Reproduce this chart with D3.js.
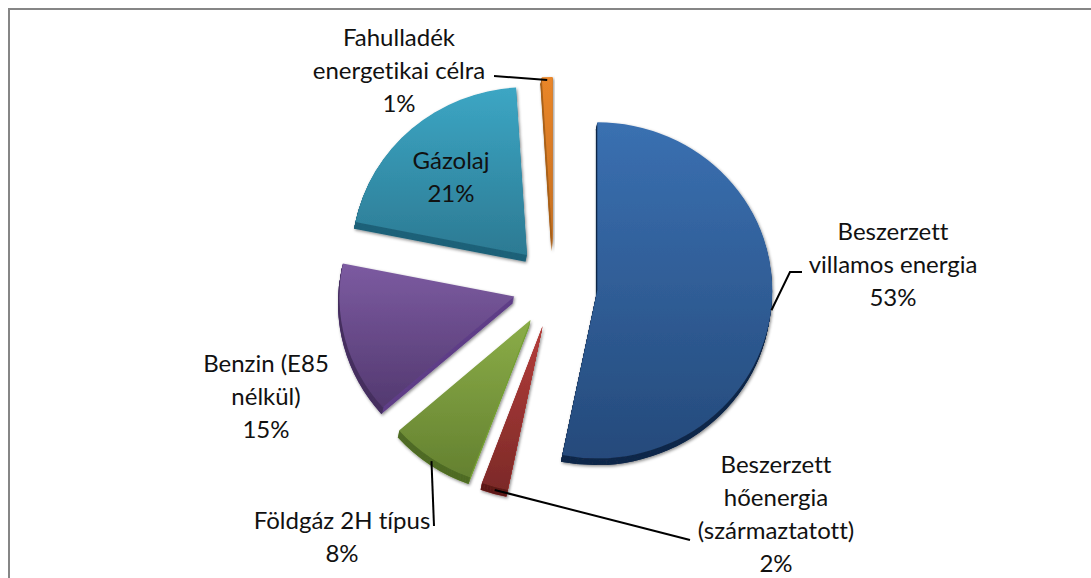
<!DOCTYPE html>
<html>
<head>
<meta charset="utf-8">
<script src="https://cdn.jsdelivr.net/npm/d3@7"></script>
<style>
  html, body { margin: 0; padding: 0; background: #fff; overflow: hidden; }
  text { font-family: Lato, "Open Sans", sans-serif; font-size: 24px; fill: #111; font-variant-ligatures: none; }
</style>
</head>
<body>
<div id="chart"></div>
<script>
// chart data
var categories = ["Beszerzett villamos energia", "Beszerzett hőenergia (származtatott)", "Földgáz 2H típus", "Benzin (E85 nélkül)", "Gázolaj", "Fahulladék energetikai célra"];
var values = [53.2, 2.45, 7.9, 14.6, 20.85, 1];
var labelLines = [
  ["Beszerzett", "villamos energia"],
  ["Beszerzett", "hőenergia", "(származtatott)"],
  ["Földgáz 2H típus"],
  ["Benzin (E85", "nélkül)"],
  ["Gázolaj"],
  ["Fahulladék", "energetikai célra"]
];

// styling per slice
var topColors = ["#3a70b1", "#b43d3a", "#8bad48", "#7c5ba1", "#3ca6c4", "#ea8629"];
var bottomColors = ["#254a7b", "#7c2a28", "#648130", "#533970", "#2c7a93", "#c46e20"];
var edgeColors = ["#12294a", "#ab3835", "#76a034", "#5f3f88", "#1f6279", "#a9611b"];
var rimColors = ["#12294a", "#5c1a18", "#4f6b25", "#46305f", "#1f6279", "#a9611b"];

// label layout: centre x, y of the first line
var labelPos = [[893, 230], [776, 463], [342, 519], [266, 362], [451, 159], [399, 36]];
// leader lines continue from the slice edge through these points
var leaderPoints = [[[790, 272], [802, 272]], [[690, 540]], [[434, 526]], [], [], [[494, 76]]];
var explodes = [43.5, 41, 41, 41, 41, 41];

var svgWidth = 1091;
var svgHeight = 578;
var center = { x: 554, y: 286 };
var radius = 175;
var squash = 0.96;
var depth = 7;
var lineGap = 33.2;

var svg = d3.select("#chart")
  .append("svg")
  .attr("width", svgWidth)
  .attr("height", svgHeight)
  .style("display", "block");

var defs = svg.append("defs");

// one vertical gradient per slice
categories.forEach(function(c, i) {
  var g = defs.append("linearGradient")
    .attr("id", "grad" + i)
    .attr("x1", 0).attr("y1", 0).attr("x2", 0).attr("y2", 1);
  g.append("stop").attr("offset", "0%").attr("stop-color", topColors[i]);
  g.append("stop").attr("offset", "100%").attr("stop-color", bottomColors[i]);
});

var shadow = defs.append("filter")
  .attr("id", "shadow")
  .attr("x", "-10%").attr("y", "-10%").attr("width", "125%").attr("height", "125%");
shadow.append("feDropShadow")
  .attr("dx", 1)
  .attr("dy", 1.5)
  .attr("stdDeviation", 1.5)
  .attr("flood-color", "#000")
  .attr("flood-opacity", 0.45);

// frame, only top and left edges show
svg.append("path")
  .attr("d", d3.line()([[9, svgHeight], [9, 9], [svgWidth, 9]]))
  .attr("fill", "none")
  .attr("stroke", "#868686")
  .attr("stroke-width", 2);

var pie = d3.pie().sort(null).value(function(d) { return d; });
var arcs = pie(values);
var arc = d3.arc().innerRadius(0).outerRadius(radius);
var rim = d3.arc().innerRadius(radius - 1.5).outerRadius(radius);

// apex of a slice after it is pulled out of the pie
function apex(d, i) {
  var mid = (d.startAngle + d.endAngle) / 2;
  return [center.x + explodes[i] * Math.sin(mid), center.y - explodes[i] * Math.cos(mid)];
}

var slices = svg.selectAll("g.slice")
  .data(arcs)
  .enter()
  .append("g")
  .attr("class", "slice")
  .attr("filter", "url(#shadow)")
  .attr("transform", function(d, i) {
    var p = apex(d, i);
    return "translate(" + p[0] + "," + p[1] + ") scale(1," + squash + ")";
  });

// extruded side: stacked copies for the straight edges, then the rim of the arc
slices.each(function(d, i) {
  var g = d3.select(this);
  d3.range(depth, 0, -1).forEach(function(t) {
    g.append("path")
      .attr("d", arc(d))
      .attr("transform", "translate(" + (-t * 0.2) + "," + t + ")")
      .attr("fill", edgeColors[i]);
  });
  d3.range(depth, 0, -1).forEach(function(t) {
    g.append("path")
      .attr("d", rim(d))
      .attr("transform", "translate(" + (-t * 0.2) + "," + t + ")")
      .attr("fill", rimColors[i]);
  });
  g.append("path")
    .attr("d", arc(d))
    .attr("fill", "url(#grad" + i + ")");
});

// leader lines
arcs.forEach(function(d, i) {
  if (!leaderPoints[i].length) return;
  var p = apex(d, i);
  var mid = (d.startAngle + d.endAngle) / 2;
  var start = [p[0] + radius * Math.sin(mid), p[1] - radius * squash * Math.cos(mid) + 3];
  svg.append("path")
    .attr("d", d3.line()([start].concat(leaderPoints[i])))
    .attr("fill", "none")
    .attr("stroke", "#000")
    .attr("stroke-width", 2);
});

// labels, category lines then the rounded percentage
categories.forEach(function(c, i) {
  var lines = labelLines[i].concat([Math.round(values[i]) + "%"]);
  svg.selectAll("text.l" + i)
    .data(lines)
    .enter()
    .append("text")
    .attr("class", "l" + i)
    .attr("text-anchor", "middle")
    .attr("dominant-baseline", "central")
    .attr("x", labelPos[i][0])
    .attr("y", function(d, j) { return labelPos[i][1] + j * lineGap; })
    .text(function(d) { return d; });
});
</script>
</body>
</html>
